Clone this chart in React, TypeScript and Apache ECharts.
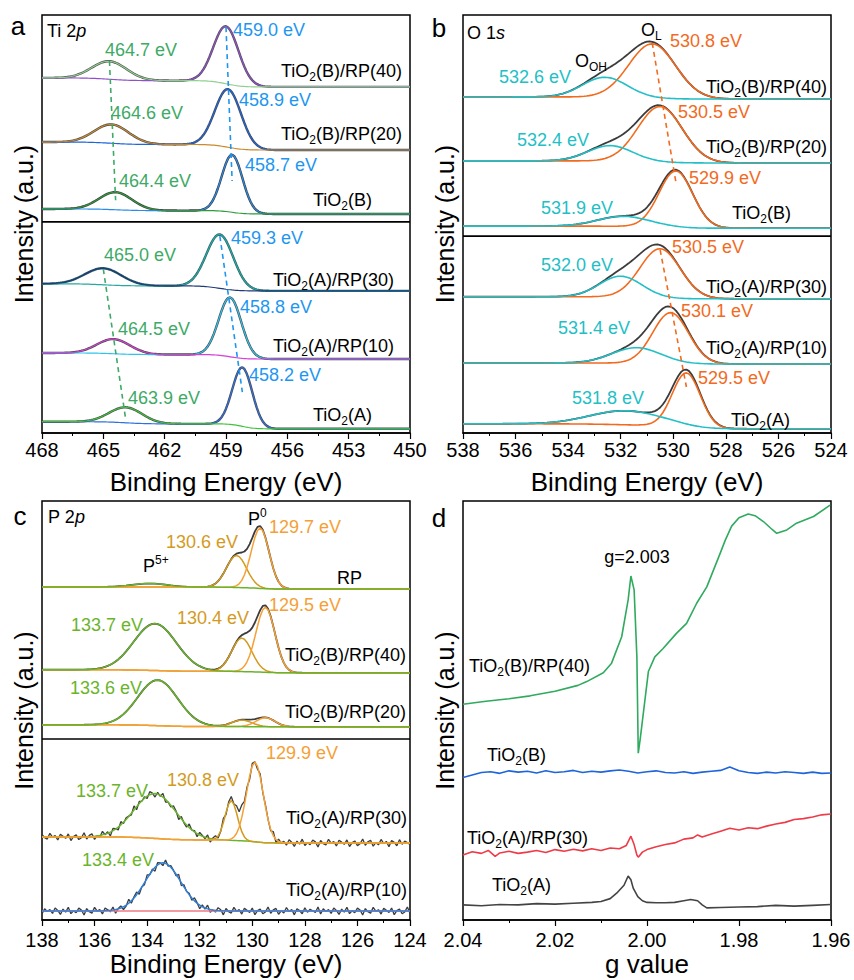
import React, { useEffect, useRef } from "react";
import * as echarts from "echarts";

const FONT = '"Liberation Sans", Arial, Helvetica, sans-serif';

// ================= Panel a : Ti 2p =================
const tiSamples = ["TiO2(B)/RP(40)", "TiO2(B)/RP(20)", "TiO2(B)", "TiO2(A)/RP(30)", "TiO2(A)/RP(10)", "TiO2(A)"];
const ti2p12Center = [464.7, 464.6, 464.4, 465.0, 464.5, 463.9];
const ti2p12Height = [4.3, 4.5, 4.2, 3.95, 3.5, 3.7];
const ti2p12Fwhm = [2.0, 2.0, 1.9, 2.1, 1.9, 1.9];
const ti2p32Center = [459.0, 458.9, 458.7, 459.3, 458.8, 458.2];
const ti2p32Height = [13.75, 13.9, 13.75, 12.9, 14.2, 14.1];
const ti2p32Fwhm = [1.45, 1.5, 1.2, 1.55, 1.3, 1.15];
const tiBaseline = [82.8, 67.7, 52.4, 34.0, 17.7, 1.0];
const tiStep = [2.15, 1.9, 1.2, 1.7, 1.45, 1.7];
const tiDivider = 50.5;
const tiGuide12 = [[89.0, 55.7], [39.2, 3.1]];
const tiGuide32 = [[97.1, 60.3], [47.1, 9.8]];

// ================= Panel b : O 1s =================
const oSamples = ["TiO2(B)/RP(40)", "TiO2(B)/RP(20)", "TiO2(B)", "TiO2(A)/RP(30)", "TiO2(A)/RP(10)", "TiO2(A)"];
const oOHCenter = [532.6, 532.4, 531.9, 532.0, 531.4, 531.8];
const oOHHeight = [4.78, 3.71, 2.39, 5.0, 3.7, 3.35];
const oOHFwhm = [2.0, 2.0, 2.3, 1.9, 2.2, 3.2];
const oLCenter = [530.8, 530.5, 529.9, 530.5, 530.1, 529.5];
const oLHeight = [13.0, 13.3, 13.5, 11.8, 12.2, 13.0];
const oLFwhm = [2.1, 2.0, 1.5, 1.8, 1.6, 1.25];
const oBaseline = [79.9, 64.6, 49.0, 32.1, 16.5, 1.0];
const oStep = [0.5, 0.5, 0.5, 0.5, 0.25, 1.2];
const oDivider = 47.1;
const oGuide = [[93.3, 60.0], [43.8, 11.0]];

// ================= Panel c : P 2p =================
const pSamples = ["RP", "TiO2(B)/RP(40)", "TiO2(B)/RP(20)", "TiO2(A)/RP(30)", "TiO2(A)/RP(10)"];
const pHighCenter = [133.9, 133.7, 133.6, 133.7, 133.4];
const pHighHeight = [0.84, 11.2, 10.9, 10.7, 11.5];
const pHighFwhm = [1.6, 1.9, 1.8, 1.9, 1.6];
const pMidCenter = [130.6, 130.4, 130.4, 130.8, 130.8];
const pMidHeight = [7.64, 8.0, 1.55, 9.5, 0];
const pMidFwhm = [0.9, 0.9, 0.9, 0.55, 0.6];
const pLowCenter = [129.7, 129.5, 129.5, 129.9, 129.9];
const pLowHeight = [14.4, 15.5, 2.15, 19.0, 0];
const pLowFwhm = [0.8, 0.85, 0.85, 0.75, 0.75];
const pBaseline = [79.0, 59.0, 46.1, 18.4, 2.15];
const pStep = [0.48, 0.72, 0.48, 1.43, 0];
const pDivider = 43.2;
const pNoiseAmp = [0, 0, 0, 1.0, 1.0];
const noisePattern = [0.42, -0.31, 0.77, -0.68, 0.12, 0.55, -0.92, 0.36, -0.14, 0.83, -0.47, 0.05, -0.79, 0.61, 0.28, -0.56, 0.94, -0.22, -0.65, 0.47, 0.09, -0.88, 0.71, -0.35, 0.18, 0.63, -0.74, 0.31, -0.05, 0.86, -0.51, -0.19, 0.58, -0.96, 0.24, 0.69, -0.41, 0.02, -0.63, 0.89, -0.28, 0.44, -0.82, 0.15, 0.73, -0.57, 0.33, -0.11, 0.52, -0.71, 0.97, -0.38, 0.07];

// ================= Panel d : EPR =================
const eprBRP40 = [[2.04, 51.5], [2.035, 52.2], [2.03, 52.8], [2.0254, 53.5], [2.02, 54.6], [2.015, 56.0], [2.0131, 56.9], [2.0095, 59.0], [2.0077, 61.3], [2.0055, 67.6], [2.0041, 76.4], [2.0035, 82.1], [2.0028, 78.8], [2.0022, 62.8], [2.0019, 39.8], [2.0015, 43.0], [1.9997, 59.3], [1.9983, 62.8], [1.9965, 64.8], [1.9936, 68.4], [1.9914, 70.8], [1.9892, 75.6], [1.987, 79.5], [1.9841, 87.5], [1.983, 90.6], [1.9816, 94.0], [1.9800, 96.0], [1.978, 96.9], [1.9765, 96.5], [1.9747, 95.1], [1.9728, 93.2], [1.9718, 92.3], [1.9696, 93.1], [1.9675, 94.7], [1.9638, 96.3], [1.9602, 99.0]];
const eprB = [[2.04, 34.0], [2.038, 34.6], [2.036, 35.2], [2.034, 35.4], [2.032, 35.0], [2.03, 35.6], [2.028, 35.3], [2.026, 35.5], [2.024, 35.1], [2.022, 35.6], [2.02, 35.2], [2.018, 35.4], [2.016, 35.7], [2.014, 35.2], [2.012, 35.5], [2.01, 35.3], [2.008, 35.6], [2.006, 35.8], [2.004, 35.5], [2.002, 35.1], [2.0, 35.4], [1.998, 35.6], [1.996, 35.2], [1.994, 35.1], [1.992, 35.4], [1.99, 35.0], [1.988, 35.3], [1.986, 35.5], [1.984, 35.7], [1.982, 36.5], [1.98, 35.6], [1.978, 35.2], [1.976, 35.0], [1.974, 35.3], [1.972, 35.1], [1.97, 35.4], [1.968, 35.2], [1.966, 35.0], [1.964, 35.3], [1.962, 35.0], [1.96, 35.1]];
const eprARP30 = [[2.04, 15.5], [2.038, 16.3], [2.036, 15.9], [2.0345, 16.6], [2.033, 15.2], [2.032, 16.0], [2.03, 16.4], [2.028, 15.9], [2.026, 16.2], [2.024, 16.6], [2.022, 16.1], [2.02, 16.8], [2.018, 16.4], [2.016, 16.9], [2.014, 16.5], [2.012, 17.0], [2.01, 16.6], [2.008, 17.2], [2.006, 17.0], [2.0045, 17.8], [2.0035, 20.0], [2.0028, 18.0], [2.0022, 15.5], [2.0019, 15.0], [2.001, 16.2], [2.0, 16.8], [1.998, 17.5], [1.996, 18.0], [1.994, 18.4], [1.992, 19.3], [1.99, 19.6], [1.989, 20.3], [1.988, 19.8], [1.986, 20.5], [1.984, 21.2], [1.982, 21.9], [1.98, 21.5], [1.978, 22.0], [1.976, 21.8], [1.974, 22.4], [1.972, 22.9], [1.97, 23.3], [1.968, 24.0], [1.966, 24.2], [1.964, 24.6], [1.962, 25.1], [1.96, 25.3]];
const eprA = [[2.04, 3.6], [2.036, 3.4], [2.032, 3.7], [2.028, 3.6], [2.024, 3.9], [2.02, 3.8], [2.016, 4.0], [2.012, 4.2], [2.01, 4.4], [2.008, 5.1], [2.0066, 6.4], [2.005, 8.3], [2.0041, 10.5], [2.0035, 9.6], [2.003, 7.6], [2.002, 5.6], [2.001, 4.6], [2.0, 4.2], [1.998, 4.1], [1.996, 4.1], [1.994, 4.2], [1.992, 4.6], [1.9905, 4.9], [1.989, 4.6], [1.988, 3.6], [1.987, 2.9], [1.984, 3.0], [1.98, 3.1], [1.976, 3.2], [1.972, 3.5], [1.968, 3.3], [1.964, 3.5], [1.96, 3.7]];
const eprLabels = ["TiO2(B)/RP(40)", "TiO2(B)", "TiO2(A)/RP(30)", "TiO2(A)"];
const gMarker = "g=2.003";

// ================= styling / layout =================
const C = {
  tiGreen: "#3DAA66", tiBlue: "#1E96F0",
  oOrange: "#F26A1E", oCyan: "#22BFC6",
  pGreen: "#6AB42A", pGold: "#D39B1E", pOrange: "#F5A036", pBlue: "#2F80D8", pRed: "#F07A84",
};
const tiDataColor = ["#505050", "#4a4a4a", "#3a3a3a", "#2f5f66", "#4a4a4a", "#4a4a4a"];
const ti12Color = ["#8fcf8f", "#c98a2e", "#2f9a3c", "#1d3b78", "#d43fd4", "#3cc43c"];
const ti32Color = ["#9050c8", "#1e66dc", "#2a8ce8", "#27a8a0", "#2ec3ee", "#2f70e0"];
const eprColors = ["#2FAA5F", "#1E64DC", "#EE3B47", "#444444"];

const tiLabel12Pos = [[105, 50], [111, 113], [119, 181], [104, 255], [118, 329], [128, 398]];
const tiLabel32Pos = [[233, 30], [239, 100], [245, 165], [231, 238], [240, 307], [249, 375]];
const tiNamePos = [[402, 71], [402, 134], [372, 200], [394, 280], [394, 346], [372, 415]];
const oOHLabelPos = [[499, 77], [517, 140], [541, 208], [541, 265], [558, 328], [572, 398]];
const oLLabelPos = [[670, 41], [678, 112], [689, 178], [672, 247], [681, 311], [698, 378]];
const oNamePos = [[827, 87], [827, 147], [791, 213], [827, 287], [827, 348], [790, 420]];
const pHighLabelPos = [null, [71, 625], [70, 688], [76, 791], [82, 860]];
const pMidLabelPos = [[166, 542], [177, 618], null, [167, 780], null];
const pLowLabelPos = [[269, 527], [269, 605], null, [266, 753], null];
const pNamePos = [[337, 578, "left"], [406, 655, "right"], [406, 712, "right"], [407, 818, "right"], [407, 890, "right"]];
const eprLabelPos = [[469, 666], [487, 755], [467, 838], [492, 885]];

// ================= helpers =================
function erf(x: number) {
  const s = x < 0 ? -1 : 1;
  const a = Math.abs(x);
  const t = 1 / (1 + 0.3275911 * a);
  const y = 1 - ((((1.061405429 * t - 1.453152027) * t + 1.421413741) * t - 0.284496736) * t + 0.254829592) * t * Math.exp(-a * a);
  return s * y;
}
const gauss = (x: number, c: number, h: number, w: number) => h * Math.exp((-4 * Math.LN2 * (x - c) * (x - c)) / (w * w));
const cdf = (x: number, c: number, w: number) => 0.5 * (1 + erf((x - c) / ((w / 2.3548) * Math.SQRT2)));
function range(min: number, max: number, step: number) {
  const n = Math.round((max - min) / step);
  const out: number[] = [];
  for (let i = 0; i <= n; i++) out.push(+(min + i * step).toFixed(3));
  return out;
}
function buildTrace(xs: number[], cs: number[], hs: number[], ws: number[], base: number, step: number) {
  const areas = hs.map((h, i) => h * ws[i]);
  const total = areas.reduce((a, b) => a + b, 0);
  const bg = xs.map((x) => base + (total > 0 ? (step * areas.reduce((acc, a, i) => acc + a * cdf(x, cs[i], ws[i]), 0)) / total : 0));
  const comps = cs.map((c, i) => xs.map((x, k) => [x, bg[k] + gauss(x, c, hs[i], ws[i])]));
  const env = xs.map((x, k) => [x, bg[k] + cs.reduce((acc, c, i) => acc + gauss(x, c, hs[i], ws[i]), 0)]);
  return { bg: xs.map((x, k) => [x, bg[k]]), comps, env };
}
const line = (data: any[], idx: number, color: string, width: number, z: number, dashed = false) => ({
  type: "line", xAxisIndex: idx, yAxisIndex: idx, data, showSymbol: false, symbol: "none", silent: true, z,
  lineStyle: { color, width, type: dashed ? [5, 4] : "solid" }, emphasis: { disabled: true },
});

const RICH = {
  n: { fontSize: 18, fontFamily: FONT, lineHeight: 24, verticalAlign: "middle" },
  s: { fontSize: 12, fontFamily: FONT, lineHeight: 12, verticalAlign: "bottom" },
  p: { fontSize: 12, fontFamily: FONT, lineHeight: 12, verticalAlign: "top" },
  i: { fontSize: 18, fontFamily: FONT, fontStyle: "italic", lineHeight: 24, verticalAlign: "middle" },
};
function sampleRich(name: string) {
  const i = name.indexOf("O2");
  if (i < 0) return `{n|${name}}`;
  return `{n|${name.slice(0, i + 1)}}{s|2}{n|${name.slice(i + 2)}}`;
}
function txt(x: number, y: number, text: string, fill: string, align = "left", size = 18) {
  return {
    type: "text", x, y, silent: true, z: 100,
    style: { text, rich: RICH, fill, fontSize: size, fontFamily: FONT, align, verticalAlign: "middle" },
  };
}
const ev = (v: number) => `{n|${v.toFixed(1)} eV}`;

function buildOption() {
  const series: any[] = [];
  const graphics: any[] = [];

  // ---- panel a ----
  const xsA = range(450, 468, 0.1);
  tiSamples.forEach((name, i) => {
    const tr = buildTrace(xsA, [ti2p12Center[i], ti2p32Center[i]], [ti2p12Height[i], ti2p32Height[i]], [ti2p12Fwhm[i], ti2p32Fwhm[i]], tiBaseline[i], tiStep[i]);
    series.push(line(tr.env, 0, tiDataColor[i], 2.4, 2));
    series.push(line(tr.comps[1], 0, ti32Color[i], 1.2, 3));
    series.push(line(tr.comps[0], 0, ti12Color[i], 1.2, 4));
    graphics.push(txt(tiLabel12Pos[i][0], tiLabel12Pos[i][1], ev(ti2p12Center[i]), C.tiGreen));
    graphics.push(txt(tiLabel32Pos[i][0], tiLabel32Pos[i][1], ev(ti2p32Center[i]), C.tiBlue));
    graphics.push(txt(tiNamePos[i][0], tiNamePos[i][1], sampleRich(name), "#000", "right"));
  });
  [[0, 2], [3, 5]].forEach(([a, b], g) => {
    series.push(line([[ti2p12Center[a], tiGuide12[g][0]], [ti2p12Center[b], tiGuide12[g][1]]], 0, C.tiGreen, 1.6, 6, true));
    series.push(line([[ti2p32Center[a], tiGuide32[g][0]], [ti2p32Center[b], tiGuide32[g][1]]], 0, C.tiBlue, 1.6, 6, true));
  });
  series.push(line([[450, tiDivider], [468, tiDivider]], 0, "#000", 1.6, 7));
  graphics.push(txt(47, 31, "{n|Ti 2}{i|p}", "#000"));

  // ---- panel b ----
  const xsB = range(524, 538, 0.1);
  oSamples.forEach((name, i) => {
    const tr = buildTrace(xsB, [oOHCenter[i], oLCenter[i]], [oOHHeight[i], oLHeight[i]], [oOHFwhm[i], oLFwhm[i]], oBaseline[i], oStep[i]);
    series.push(line(tr.env, 1, "#3c3c3c", 1.8, 2));
    series.push(line(tr.comps[1], 1, C.oOrange, 1.6, 3));
    series.push(line(tr.comps[0], 1, C.oCyan, 1.6, 4));
    graphics.push(txt(oOHLabelPos[i][0], oOHLabelPos[i][1], ev(oOHCenter[i]), C.oCyan));
    graphics.push(txt(oLLabelPos[i][0], oLLabelPos[i][1], ev(oLCenter[i]), C.oOrange));
    graphics.push(txt(oNamePos[i][0], oNamePos[i][1], sampleRich(name), "#000", "right"));
  });
  [[0, 2], [3, 5]].forEach(([a, b], g) => {
    series.push(line([[oLCenter[a], oGuide[g][0]], [oLCenter[b], oGuide[g][1]]], 1, C.oOrange, 1.6, 6, true));
  });
  series.push(line([[524, oDivider], [538, oDivider]], 1, "#000", 1.6, 7));
  graphics.push(txt(467, 33, "{n|O 1}{i|s}", "#000"));
  graphics.push(txt(575, 61, "{n|O}{s|OH}", "#000"));
  graphics.push(txt(641, 30, "{n|O}{s|L}", "#000"));

  // ---- panel c ----
  const xsC = range(124, 138, 0.1);
  pSamples.forEach((name, i) => {
    const cs: number[] = [], hs: number[] = [], ws: number[] = [], cols: string[] = [];
    [[pHighCenter, pHighHeight, pHighFwhm, i === 4 ? C.pBlue : C.pGreen], [pMidCenter, pMidHeight, pMidFwhm, C.pGold], [pLowCenter, pLowHeight, pLowFwhm, C.pOrange]].forEach(([c, h, w, col]: any) => {
      if (h[i] > 0) { cs.push(c[i]); hs.push(h[i]); ws.push(w[i]); cols.push(col); }
    });
    const tr = buildTrace(xsC, cs, hs, ws, pBaseline[i], pStep[i]);
    const data = tr.env.map(([x, y], k) => [x, y + pNoiseAmp[i] * noisePattern[(k + i * 17) % noisePattern.length]]);
    series.push(line(data, 2, "#3c3c3c", pNoiseAmp[i] > 0 ? 1.3 : 1.8, 2));
    if (i === 4) series.push(line(tr.bg, 2, C.pRed, 1.6, 3));
    const order = i === 3 ? [0, 1, 2] : cs.length === 3 ? [1, 2, 0] : cs.map((_, k) => k);
    order.forEach((k, zi) => series.push(line(tr.comps[k], 2, cols[k], 1.5, 3 + zi + 1)));
    if (pHighLabelPos[i]) graphics.push(txt(pHighLabelPos[i]![0], pHighLabelPos[i]![1], ev(pHighCenter[i]), C.pGreen));
    if (pMidLabelPos[i]) graphics.push(txt(pMidLabelPos[i]![0], pMidLabelPos[i]![1], ev(pMidCenter[i]), C.pGold));
    if (pLowLabelPos[i]) graphics.push(txt(pLowLabelPos[i]![0], pLowLabelPos[i]![1], ev(pLowCenter[i]), C.pOrange));
    graphics.push(txt(pNamePos[i][0] as number, pNamePos[i][1] as number, sampleRich(name), "#000", pNamePos[i][2] as string));
  });
  series.push(line([[124, pDivider], [138, pDivider]], 2, "#000", 1.6, 7));
  graphics.push(txt(48, 517, "{n|P 2}{i|p}", "#000"));
  graphics.push(txt(248, 519, "{n|P}{p|0}", "#000"));
  graphics.push(txt(143, 566, "{n|P}{p|5+}", "#000"));

  // ---- panel d ----
  [eprBRP40, eprB, eprARP30, eprA].forEach((d, i) => {
    series.push(line(d, 3, eprColors[i], 1.6, 3));
    graphics.push(txt(eprLabelPos[i][0], eprLabelPos[i][1], sampleRich(eprLabels[i]), "#000"));
  });
  graphics.push(txt(637, 557, `{n|${gMarker}}`, "#000", "center"));

  // panel letters
  [["a", 18, 26], ["b", 439, 28], ["c", 20, 516], ["d", 439, 518]].forEach(([t, x, y]) => {
    graphics.push({ type: "text", x, y, silent: true, z: 100, style: { text: t, fill: "#000", fontSize: 26, fontFamily: FONT, align: "center", verticalAlign: "middle" } });
  });

  const gridBox = [
    { left: 42, top: 15, width: 368, height: 418 },
    { left: 463, top: 15, width: 368, height: 418 },
    { left: 42, top: 501, width: 368, height: 419 },
    { left: 463, top: 501, width: 368, height: 419 },
  ];
  const xCfg = [
    { min: 450, max: 468, interval: 3, name: "Binding Energy (eV)", gap: 36, margin: 7 },
    { min: 524, max: 538, interval: 2, name: "Binding Energy (eV)", gap: 36, margin: 7 },
    { min: 124, max: 138, interval: 2, name: "Binding Energy (eV)", gap: 30, margin: 10 },
    { min: 1.96, max: 2.04, interval: 0.02, name: "g value", gap: 30, margin: 10 },
  ];

  return {
    animation: false,
    backgroundColor: "#fff",
    grid: gridBox.map((g) => ({ ...g, show: true, borderColor: "#000", borderWidth: 1.5, backgroundColor: "transparent" })),
    xAxis: xCfg.map((c, i) => ({
      type: "value", gridIndex: i, min: c.min, max: c.max, interval: c.interval, inverse: true,
      name: c.name, nameLocation: "middle", nameGap: c.gap,
      nameTextStyle: { fontSize: 26, color: "#000", fontFamily: FONT },
      axisLine: { show: true, onZero: false, lineStyle: { color: "#000", width: 1.5 } },
      axisTick: { show: true, inside: false, length: 6, lineStyle: { color: "#000", width: 1.2 } },
      minorTick: { show: true, splitNumber: 2, length: 3, lineStyle: { color: "#000", width: 1 } },
      axisLabel: { fontSize: 20, color: "#000", fontFamily: FONT, margin: c.margin, formatter: (v: number) => (i === 3 ? v.toFixed(2) : String(Math.round(v))) },
      splitLine: { show: false },
    })),
    yAxis: gridBox.map((_, i) => ({
      type: "value", gridIndex: i, min: 0, max: 100,
      name: "Intensity (a.u.)", nameLocation: "middle", nameGap: 6,
      nameTextStyle: { fontSize: 25, color: "#000", fontFamily: FONT },
      axisLine: { show: false }, axisTick: { show: false }, axisLabel: { show: false }, splitLine: { show: false },
    })),
    series,
    graphic: graphics,
  };
}

export default function App() {
  const ref = useRef<HTMLDivElement>(null);
  useEffect(() => {
    const chart = echarts.init(ref.current!, null, { renderer: "svg" });
    chart.setOption(buildOption() as any);
    return () => chart.dispose();
  }, []);
  return <div ref={ref} style={{ position: "absolute", left: 0, top: 0, width: 854, height: 980, background: "#fff" }} />;
}
